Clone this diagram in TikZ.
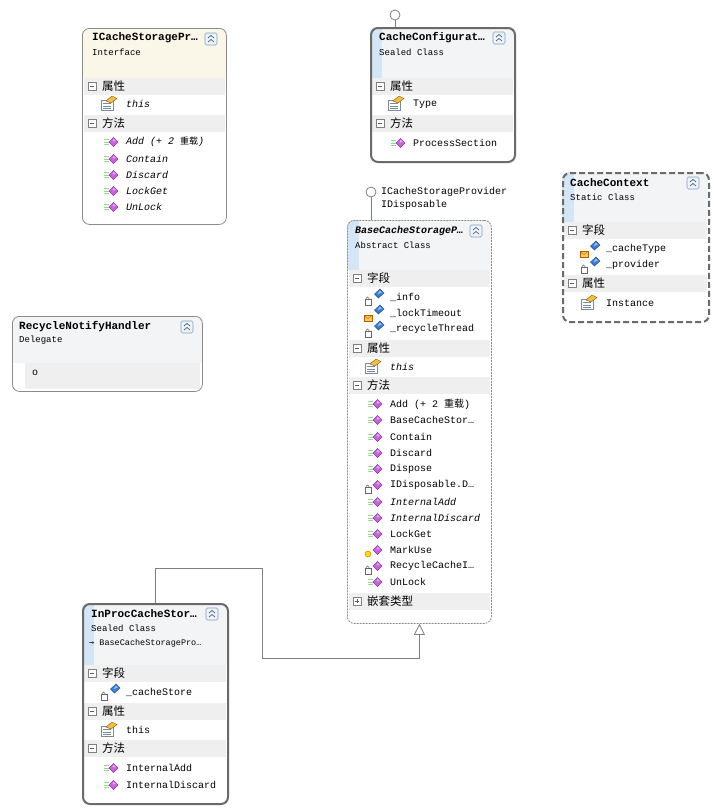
\documentclass[tikz,border=0pt]{standalone}
\usepackage{fontspec}
\setmonofont{Liberation Mono}
\newfontfamily\cjk{Noto Sans CJK SC}
\newfontfamily\arrowfont{DejaVu Sans Mono}
\usetikzlibrary{arrows.meta}

\definecolor{boxline}{HTML}{8C8C8C}
\definecolor{boxdark}{HTML}{6A6A6A}
\definecolor{secfill}{HTML}{EFEFEF}
\definecolor{hdrblue}{HTML}{D4E6F6}
\definecolor{hdrgray}{HTML}{F3F4F6}
\definecolor{hdryellow}{HTML}{FAF7E8}
\definecolor{methpink}{HTML}{C865DA}
\definecolor{methdark}{HTML}{8B3A9E}
\definecolor{methgreen}{HTML}{9CD49A}
\definecolor{fieldblue}{HTML}{3C7FD8}
\definecolor{mailyellow}{HTML}{F2D060}
\definecolor{propyellow}{HTML}{E9C24A}
\definecolor{propgray}{HTML}{7C8A9C}
\definecolor{btnblue}{HTML}{7D9CC0}
\definecolor{btnfill}{HTML}{EEF3F9}
\definecolor{linkgray}{HTML}{7F7F7F}

\tikzset{
  plainbox/.style={draw=boxline, line width=0.8pt, rounded corners=7pt, anchor=north west, inner sep=0pt},
  sealedbox/.style={plainbox, draw=boxdark, line width=2pt},
  abstractbox/.style={plainbox, dash pattern=on 2pt off 1pt},
  staticbox/.style={sealedbox, dash pattern=on 6pt off 3pt},
  title/.style={anchor=west, inner sep=0pt, font=\ttfamily\bfseries\fontsize{11}{13}\selectfont},
  kind/.style={anchor=west, inner sep=0pt, font=\ttfamily\fontsize{9}{11}\selectfont},
  member/.style={anchor=west, inner sep=0pt, font=\ttfamily\fontsize{10}{12}\selectfont},
  seclabel/.style={anchor=west, inner sep=0pt, font=\cjk\fontsize{11.5}{13}\selectfont},
  togglebox/.style={draw=gray, fill=white, line width=0.5pt},
  inherit/.style={draw=linkgray, line width=0.8pt, -{Triangle[open, width=11pt, length=11pt, fill=white]}},
  lollipop/.style={circle, draw=linkgray, line width=0.8pt, minimum size=10pt, inner sep=0pt, fill=white},
}

% box background: #1 height, #2 header height, #3 header colour, #4 strip colour
\newcommand{\boxbg}[4]{%
  \begin{scope}
    \clip[rounded corners=7pt] (0,0) rectangle (\bw,#1);
    \fill[#3] (0,0) rectangle (\bw,#2);
    \fill[#4] (0,0) rectangle (12,#2);
  \end{scope}}
\newcommand{\button}{%
  \filldraw[fill=btnfill, draw=btnblue, line width=0.6pt, rounded corners=1.5pt] (\bw-21,5) rectangle (\bw-9,17);
  \draw[btnblue!60!black, line width=0.7pt] (\bw-18,10) -- (\bw-15,7.5) -- (\bw-12,10)
    (\bw-18,14) -- (\bw-15,11.5) -- (\bw-12,14);}
\newcommand{\sect}[2]{%
  \fill[secfill] (1.5,#1-8.5) rectangle (\bw-1.5,#1+8.5);
  \draw[togglebox] (6,#1-4) rectangle (14,#1+4);
  \draw[gray!70!black, line width=0.6pt] (8,#1) -- (12,#1);
  \node[seclabel] at (20,#1) {#2};}
\newcommand{\sectplus}[2]{%
  \sect{#1}{#2}
  \draw[gray!70!black, line width=0.6pt] (10,#1-2) -- (10,#1+2);}
% member icons, \tx is the text column of the box
\newcommand{\methicon}[1]{%
  \filldraw[fill=methpink, draw=methdark, line width=0.4pt] (\tx-12.5,#1-4.5) -- (\tx-8,#1) -- (\tx-12.5,#1+4.5) -- (\tx-17,#1) -- cycle;
  \fill[white, opacity=0.5] (\tx-12.5,#1-3.5) -- (\tx-10,#1-1) -- (\tx-13.5,#1-0.5) -- cycle;}
\newcommand{\pubmark}[1]{%
  \draw[methgreen, line width=0.7pt] (\tx-22,#1-2.5) -- ++(5,0) (\tx-22,#1) -- ++(5,0) (\tx-22,#1+2.5) -- ++(5,0);}
\newcommand{\lockmark}[1]{%
  \filldraw[fill=white, draw=gray!80!black, line width=0.5pt] (\tx-25,#1+2.5) rectangle (\tx-19,#1+8);
  \draw[gray!80!black, line width=0.5pt] (\tx-24,#1+2.5) -- (\tx-24,#1+1.5) arc(180:0:1.5pt) -- (\tx-21,#1+2.5);}
\newcommand{\mailmark}[1]{%
  \filldraw[fill=mailyellow, draw=orange!70!black, line width=0.4pt] (\tx-26,#1+2.5) rectangle (\tx-18,#1+8);
  \draw[orange!70!black, line width=0.4pt] (\tx-26,#1+2.5) -- (\tx-22,#1+5.5) -- (\tx-18,#1+2.5);}
\newcommand{\protmark}[1]{%
  \filldraw[fill=yellow!80!orange, draw=orange!80!black, line width=0.4pt] (\tx-22,#1+4) circle (3pt);}
\newcommand{\meth}[3]{% #1 y, #2 badge, #3 text
  #2{#1}
  \methicon{#1}
  \node[member] at (\tx,#1) {#3};}
\newcommand{\fld}[3]{% #1 y, #2 badge, #3 text
  \filldraw[fill=fieldblue, draw=fieldblue!60!black, line width=0.4pt] (\tx-10,#1-8) -- (\tx-6,#1-4) -- (\tx-11.5,#1+1) -- (\tx-15.5,#1-3) -- cycle;
  \fill[white, opacity=0.5] (\tx-10,#1-6.5) -- (\tx-8,#1-4.5) -- (\tx-12.5,#1-3) -- cycle;
  #2{#1}
  \node[member] at (\tx,#1) {#3};}
\newcommand{\prop}[2]{% #1 y, #2 text
  \filldraw[fill=white, draw=propgray, line width=0.6pt] (\tx-25,#1-4) rectangle (\tx-13,#1+6);
  \draw[propgray, line width=0.5pt] (\tx-23,#1-0.5) -- (\tx-15,#1-0.5) (\tx-23,#1+2) -- (\tx-15,#1+2) (\tx-23,#1+4.2) -- (\tx-15,#1+4.2);
  \filldraw[fill=propyellow, draw=orange!60!black, line width=0.4pt] (\tx-20,#1-3) -- (\tx-14,#1-8) -- (\tx-9,#1-5.5) -- (\tx-15,#1-1) -- cycle;
  \node[member] at (\tx,#1) {#2};}

\begin{document}
\begin{tikzpicture}[x=1pt, y=-1pt]
  \fill[white] (0,0) rectangle (715,812);
  \useasboundingbox (0,0) rectangle (715,812);

  % interface ICacheStorageProvider
  \begin{scope}[shift={(82,28)}]
    \def\bw{144}\def\tx{44}
    \boxbg{196}{50}{hdryellow}{hdryellow}
    \node[title] (icsptitle) at (10,10) {ICacheStoragePr…};
    \node[kind] (icspkind) at (10,24) {Interface};
    \button
    \sect{58}{属性}
    \prop{76}{\textit{this}}
    \sect{95}{方法}
    \meth{114}{\pubmark}{\textit{Add (+ 2 {\cjk\fontsize{9}{10}\selectfont 重载})}}
    \meth{131}{\pubmark}{\textit{Contain}}
    \meth{147}{\pubmark}{\textit{Discard}}
    \meth{163}{\pubmark}{\textit{LockGet}}
    \meth{179}{\pubmark}{\textit{UnLock}}
    \node[plainbox, minimum width=144pt, minimum height=196pt] (icsp) at (0,0) {};
  \end{scope}

  % sealed class CacheConfiguration
  \begin{scope}[shift={(370,27)}]
    \def\bw{144}\def\tx{43}
    \boxbg{134}{51}{hdrgray}{hdrblue}
    \node[title] (ccfgtitle) at (9,11) {CacheConfigurat…};
    \node[kind] (ccfgkind) at (9,25) {Sealed Class};
    \button
    \sect{59}{属性}
    \prop{77}{Type}
    \sect{96}{方法}
    \meth{116}{\pubmark}{ProcessSection}
    \node[sealedbox, minimum width=144pt, minimum height=134pt] (ccfg) at (0,0) {};
  \end{scope}

  % abstract class BaseCacheStorageProvider
  \begin{scope}[shift={(347,220)}]
    \def\bw{144}\def\tx{43}
    \boxbg{403}{50}{hdrgray}{hdrblue}
    \node[title, font=\ttfamily\bfseries\itshape\fontsize{10}{12}\selectfont] (bcsptitle) at (8,11) {BaseCacheStorageP…};
    \node[kind] (bcspkind) at (8,25) {Abstract Class};
    \button
    \sect{58}{字段}
    \fld{77}{\lockmark}{\_info}
    \fld{93}{\mailmark}{\_lockTimeout}
    \fld{109}{\lockmark}{\_recycleThread}
    \sect{128}{属性}
    \prop{147}{\textit{this}}
    \sect{165}{方法}
    \meth{184}{\pubmark}{Add (+ 2 {\cjk\fontsize{10}{11}\selectfont 重载})}
    \meth{200}{\pubmark}{BaseCacheStor…}
    \meth{217}{\pubmark}{Contain}
    \meth{233}{\pubmark}{Discard}
    \meth{249}{\pubmark}{Dispose}
    \meth{265}{\lockmark}{IDisposable.D…}
    \meth{282}{\pubmark}{\textit{InternalAdd}}
    \meth{298}{\pubmark}{\textit{InternalDiscard}}
    \meth{314}{\pubmark}{LockGet}
    \meth{330}{\protmark}{MarkUse}
    \meth{346}{\lockmark}{RecycleCacheI…}
    \meth{362}{\pubmark}{UnLock}
    \sectplus{381}{嵌套类型}
    \node[abstractbox, minimum width=144pt, minimum height=403pt] (bcsp) at (0,0) {};
  \end{scope}

  % static class CacheContext
  \begin{scope}[shift={(562,172)}]
    \def\bw{146}\def\tx{44}
    \boxbg{149}{50}{hdrgray}{hdrblue}
    \node[title] (cctxtitle) at (8,11) {CacheContext};
    \node[kind] (cctxkind) at (8,25) {Static Class};
    \button
    \sect{58}{字段}
    \fld{77}{\mailmark}{\_cacheType}
    \fld{93}{\lockmark}{\_provider}
    \sect{111}{属性}
    \prop{131}{Instance}
    \node[staticbox, minimum width=146pt, minimum height=149pt] (cctx) at (0,0) {};
  \end{scope}

  % delegate RecycleNotifyHandler
  \begin{scope}[shift={(12,316)}]
    \def\bw{190}
    \boxbg{75}{47}{hdrgray}{hdrgray}
    \fill[secfill] (13,47) rectangle (\bw-2,72.5);
    \node[title] (rnhtitle) at (7,11) {RecycleNotifyHandler};
    \node[kind] (rnhkind) at (7,24) {Delegate};
    \button
    \node[member] (rnhargs) at (20,57) {o};
    \node[plainbox, minimum width=190pt, minimum height=75pt] (rnh) at (0,0) {};
  \end{scope}

  % sealed class InProcCacheStorageProvider
  \begin{scope}[shift={(82,603)}]
    \def\bw{145}\def\tx{44}
    \boxbg{200}{62}{hdrgray}{hdrblue}
    \node[title] (ipcstitle) at (9,11) {InProcCacheStor…};
    \node[kind] (ipcskind) at (9,25) {Sealed Class};
    \node[kind, font=\ttfamily\fontsize{8.5}{10}\selectfont] (ipcsbase) at (7,40) {{\arrowfont →} BaseCacheStoragePro…};
    \button
    \sect{70}{字段}
    \fld{89}{\lockmark}{\_cacheStore}
    \sect{108}{属性}
    \prop{127}{this}
    \sect{145}{方法}
    \meth{165}{\pubmark}{InternalAdd}
    \meth{182}{\pubmark}{InternalDiscard}
    \node[sealedbox, minimum width=145pt, minimum height=200pt] (ipcs) at (0,0) {};
  \end{scope}

  % interfaces and inheritance
  \node[lollipop] (ccfgif) at (395,15) {};
  \draw[linkgray, line width=0.8pt] (ccfgif) -- (ccfgif |- ccfg.north);
  \node[lollipop] (bcspif) at (371,192) {};
  \draw[linkgray, line width=0.8pt] (bcspif) -- (bcspif |- bcsp.north);
  \node[member] (bcspifa) at (381,192) {ICacheStorageProvider};
  \node[member] (bcspifb) at (381,205) {IDisposable};
  \draw[inherit] (ipcs.north) |- (262,568) -- (262,658) -| (bcsp.south);
\end{tikzpicture}
\end{document}
